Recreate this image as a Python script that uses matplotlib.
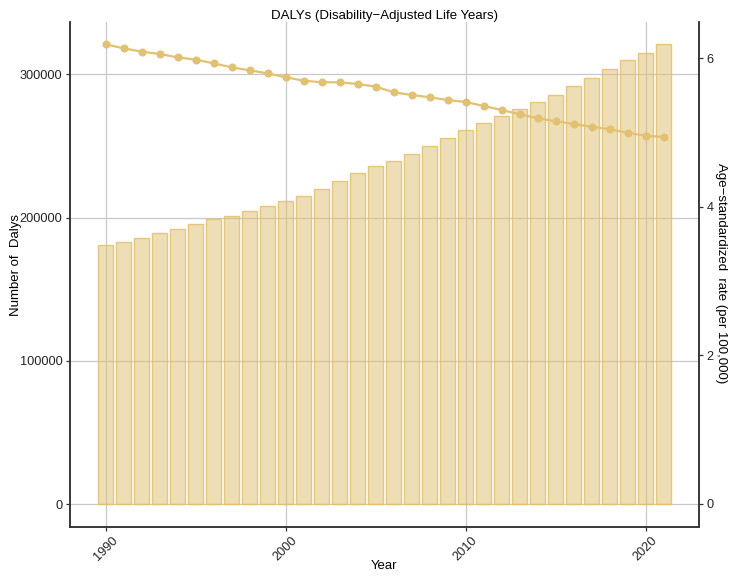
import matplotlib
matplotlib.use('Agg')
import matplotlib.pyplot as plt

plt.rcParams['font.family'] = ['Liberation Sans', 'DejaVu Sans']

# data
years = list(range(1990, 2022))
dalys = [180900, 183300, 186000, 189200, 192300, 195600, 199000, 201300,
         204600, 208300, 211600, 215300, 220000, 225800, 230900, 236000,
         239300, 244400, 250000, 255600, 261400, 266100, 271000, 275600,
         280500, 285600, 291700, 297500, 303800, 309800, 314700, 321200]
asr = [6.187, 6.133, 6.088, 6.057, 6.012, 5.980, 5.931, 5.877,
       5.837, 5.796, 5.743, 5.697, 5.676, 5.676, 5.653, 5.617,
       5.541, 5.505, 5.474, 5.437, 5.410, 5.357, 5.303, 5.245,
       5.191, 5.151, 5.114, 5.078, 5.043, 4.997, 4.957, 4.939]
x_ticks = [1990, 2000, 2010, 2020]
left_ticks = [0, 100000, 200000, 300000]
right_ticks = [0, 2, 4, 6]

W, H = 736, 581
fig = plt.figure(figsize=(W / 100, H / 100), dpi=100)
ax1 = fig.add_axes([0.0951, 0.0929, 0.8546, 0.8692])
ax2 = ax1.twinx()

ax1.bar(years, dalys, width=0.8, color=(0.87, 0.75, 0.43, 0.5),
        edgecolor=(0.90, 0.75, 0.40, 0.85), linewidth=1.0, zorder=2)
ax2.plot(years, asr, color='#E2C171', linewidth=1.6, marker='o',
         markersize=4.8, zorder=3)

ax1.set_xlim(1988.02, 2022.96)
ax1.set_ylim(-16060, 336600)
ax2.set_ylim(-0.31, 6.487)

ax1.set_xticks(x_ticks)
ax1.set_yticks(left_ticks)
ax2.set_yticks(right_ticks)
ax1.set_yticklabels([str(v) for v in left_ticks])

ax1.set_axisbelow(True)
ax1.grid(True, color='#C8C8C8', linewidth=0.9)

for ax in (ax1, ax2):
    ax.spines['top'].set_visible(False)
    for s in ('left', 'right', 'bottom'):
        ax.spines[s].set_color('#333333')
        ax.spines[s].set_linewidth(1.1)
    ax.tick_params(colors='#333333', labelcolor='#222222', length=3,
                   width=0.9, labelsize=9.2, pad=2.5)

plt.setp(ax1.get_xticklabels(), rotation=45)

ax1.set_title('DALYs (Disability\u2212Adjusted Life Years)', fontsize=9.5, pad=1)

# axis titles placed by figure position
fig.text(384.5 / W, 1 - 566 / H, 'Year', fontsize=9.5, ha='center', va='center')
fig.text(16 / W, 1 - 265 / H, 'Number of  Dalys', fontsize=9.5, rotation=90,
         ha='center', va='center')
fig.text(721 / W, 1 - 273 / H, 'Age\u2212standardized  rate (per 100,000)',
         fontsize=9.5, rotation=270, ha='center', va='center')

plt.savefig('out.png', dpi=100)
